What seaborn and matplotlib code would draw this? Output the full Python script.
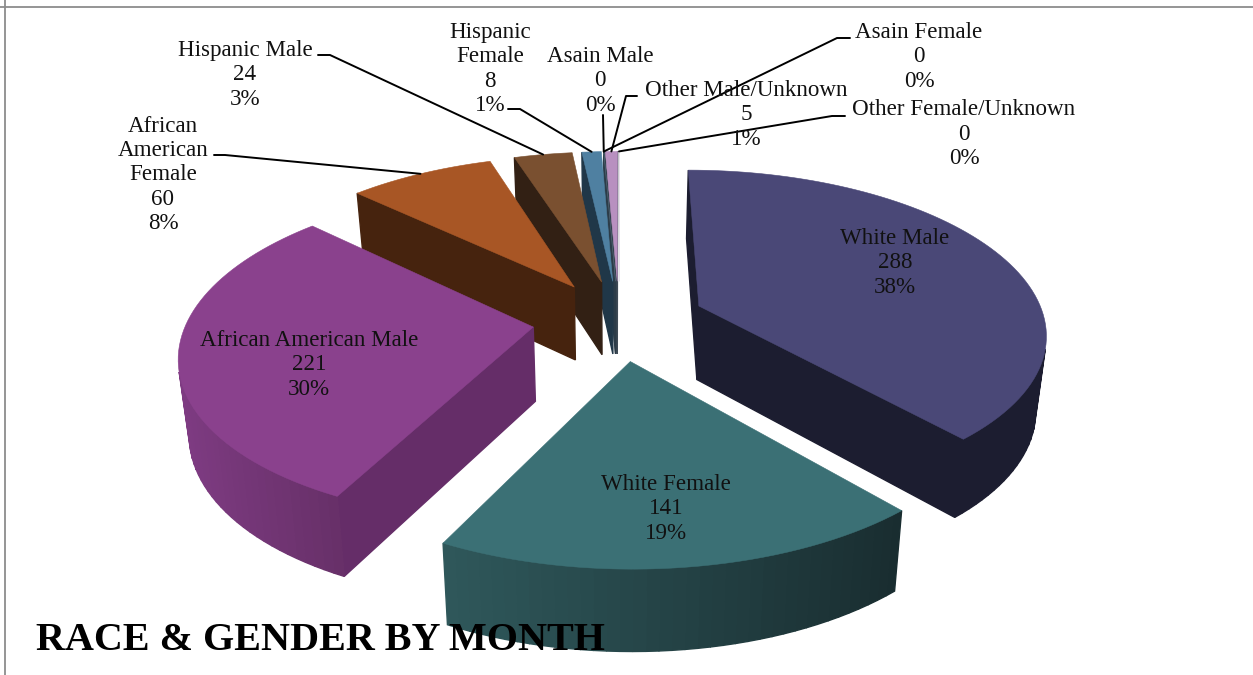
import numpy as np
import pandas as pd
import seaborn as sns
import matplotlib.pyplot as plt
from matplotlib.colors import to_rgb

# chart data
names = ["White Male", "White Female", "African American Male",
         "African\nAmerican\nFemale", "Hispanic Male", "Hispanic\nFemale",
         "Asain Male", "Asain Female", "Other Male/Unknown", "Other Female/Unknown"]
counts = [288, 141, 221, 60, 24, 8, 0, 0, 5, 0]
percents = [38, 19, 30, 8, 3, 1, 0, 0, 1, 0]

# colours: top face, cut face, rim on the left, rim on the right
top_colors = ["#4a4877", "#3b7075", "#8a418d", "#a85625", "#7a5030", "#4f80a1",
              "#8fa0b0", "#5c7080", "#b890c0", "#d8c8dc"]
cut_colors = ["#1c1d30", "#1e3a3e", "#652d68", "#46230e", "#322014", "#203748",
              "#2c3c48", "#2c3c48", "#3e4a55", "#c8c0cc"]
rim_left = ["#1c1d30", "#2f585b", "#7e3b82", "#46230e", "#322014", "#203748",
            "#2c3c48", "#2c3c48", "#3e4a55", "#c8c0cc"]
rim_right = ["#1c1d30", "#192d30", "#673068", "#46230e", "#322014", "#203748",
             "#2c3c48", "#2c3c48", "#3e4a55", "#c8c0cc"]

# where the text blocks sit and where the leader lines leave them
label_x = [895, 666, 309, 163, 245, 490, 600, 919, 746, 964]
label_y = [263, 509, 365, 175, 75, 69, 81, 57, 115, 134]
leader_start = {3: [(214, 155), (225, 155)], 4: [(318, 55), (330, 55)],
                5: [(508, 109), (520, 109)], 6: [(603, 115)],
                7: [(850, 38), (837, 38)], 8: [(637, 96), (626, 96)],
                9: [(845, 116), (832, 116)]}

# projection of the tilted pie
cx, cy = 619, 320
scale_x, scale_y = 346, 161
persp = 0.155
explode = 0.25
depth = 74
shrink = 0.975

df = pd.DataFrame({"name": names, "count": counts, "percent": percents})
df["start"] = df["count"].cumsum().shift(fill_value=0) / df["count"].sum() * 2 * np.pi
df["end"] = df["count"].cumsum() / df["count"].sum() * 2 * np.pi


def project(x, y):
    w = 1 - persp * y
    return cx + scale_x * x / w, cy + scale_y * y / w


def drop(sx, sy):
    # same point on the lower face of the slice
    yy = (sy - cy) / scale_y
    y = yy / (1 + persp * yy)
    return cx + (sx - cx) * shrink, sy + depth / np.sqrt(1 - persp * y)


def mix(c1, c2, t):
    return tuple((1 - t) * a + t * b for a, b in zip(to_rgb(c1), to_rgb(c2)))


def side(ax, p1, p2, color):
    # p1 to p2 runs clockwise round the top face, only outward faces show
    q1, q2 = drop(*p1), drop(*p2)
    xs = [p1[0], p2[0], q2[0], q1[0]]
    ys = [p1[1], p2[1], q2[1], q1[1]]
    area = sum(xs[i] * ys[(i + 1) % 4] - xs[(i + 1) % 4] * ys[i] for i in range(4))
    if area < 0:
        ax.fill(xs, ys, color=color, lw=1.0, zorder=ax.zcount)
        ax.zcount += 0.001


sns.set_theme(style="white")
plt.rcParams["font.family"] = ["Liberation Serif", "DejaVu Serif"]

fig, ax = plt.subplots(figsize=(12.53, 6.75), dpi=100)
fig.subplots_adjust(0, 0, 1, 1)
ax.set_xlim(0, 1253)
ax.set_ylim(675, 0)
ax.axis("off")
ax.zcount = 2

# back slices first, so the front ones lie over them
order = sorted(df.index, key=lambda i: -np.cos((df.start[i] + df.end[i]) / 2))
for i in order:
    mid = (df.start[i] + df.end[i]) / 2
    ox, oy = explode * np.sin(mid), -explode * np.cos(mid)
    steps = max(2, int((df.end[i] - df.start[i]) / 0.03))
    angles = np.linspace(df.start[i], df.end[i], steps)
    rim = [project(ox + np.sin(a), oy - np.cos(a)) for a in angles]
    apex = project(ox, oy)

    side(ax, apex, rim[0], cut_colors[i])
    side(ax, rim[-1], apex, cut_colors[i])
    left = min(p[0] for p in rim)
    right = max(p[0] for p in rim)
    for p1, p2 in zip(rim[:-1], rim[1:]):
        t = ((p1[0] + p2[0]) / 2 - left) / max(right - left, 1)
        side(ax, p1, p2, mix(rim_left[i], rim_right[i], t))

    pts = [apex] + rim
    ax.fill([p[0] for p in pts], [p[1] for p in pts], color=top_colors[i],
            lw=0.4, zorder=ax.zcount)
    ax.zcount += 0.001

# leader lines end on the middle of each slice's rim
for i, start in leader_start.items():
    mid = (df.start[i] + df.end[i]) / 2
    ox, oy = explode * np.sin(mid), -explode * np.cos(mid)
    end = project(ox + np.sin(mid), oy - np.cos(mid))
    path = start + [end]
    ax.plot([p[0] for p in path], [p[1] for p in path], color="black", lw=1.4, zorder=5)

for i in df.index:
    txt = f"{df.name[i]}\n{df['count'][i]}\n{df.percent[i]}%"
    ax.text(label_x[i], label_y[i], txt, ha="center", va="center", fontsize=16.6,
            color="#111111", linespacing=1.19, zorder=6)

ax.text(36, 640, "RACE & GENDER BY MONTH", fontsize=28.9, fontweight="bold",
        color="black", ha="left", va="center", zorder=7)

# frame of the original image
ax.axhline(6.5, color="#8c8c8c", lw=1.3, zorder=8)
ax.axvline(5, color="#8c8c8c", lw=1.3, zorder=8)

plt.savefig("out.png", dpi=100)
